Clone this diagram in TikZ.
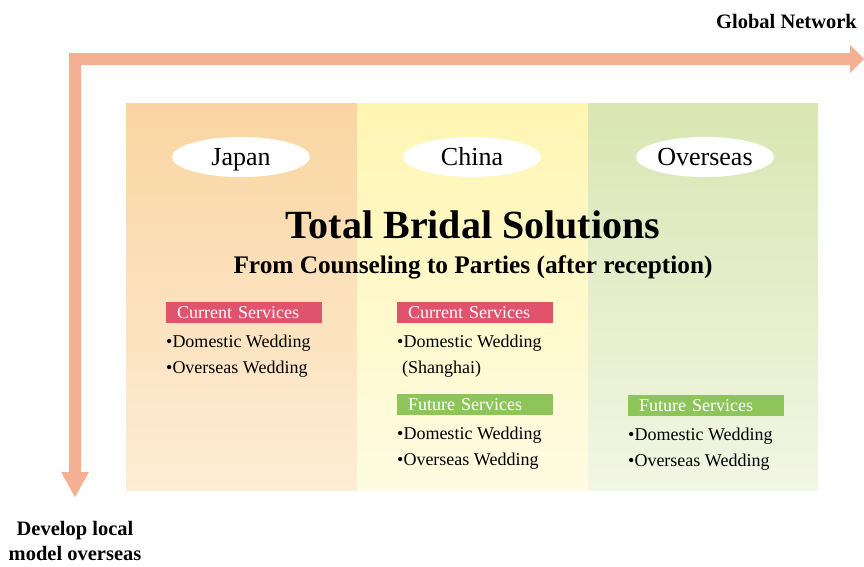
\documentclass[tikz,border=0pt]{standalone}
\usepackage{fontspec}
\setmainfont{Liberation Serif}
\usetikzlibrary{shapes.geometric}
\definecolor{arrowc}{HTML}{F4B092}
\definecolor{jtop}{HTML}{FAD5A2}
\definecolor{jbot}{HTML}{FDEDD5}
\definecolor{ctop}{HTML}{FFF6B2}
\definecolor{cbot}{HTML}{FFFBE2}
\definecolor{otop}{HTML}{D9E6B2}
\definecolor{obot}{HTML}{F2F6E4}
\definecolor{pinktag}{HTML}{E0536C}
\definecolor{greentag}{HTML}{8DC55A}
\tikzset{
  region/.style={ellipse, fill=white, minimum width=138pt, minimum height=40pt, inner sep=0pt, text height=17pt, text depth=0pt, font=\fontsize{26}{28}\selectfont},
  tag/.style={anchor=north west, fill=#1, text=white, minimum width=156pt, minimum height=21pt, inner sep=0pt, text width=134pt, align=left, font=\fontsize{18}{20}\selectfont},
  item/.style={anchor=west, inner sep=0pt, font=\fontsize{18}{20}\selectfont},
  label/.style={inner sep=0pt, font=\bfseries\fontsize{20.5}{25}\selectfont, align=center}
}
\begin{document}
\begin{tikzpicture}[x=1pt,y=-1pt]
\useasboundingbox (0,0) rectangle (864,566);
% columns
\shade[top color=jtop, bottom color=jbot] (126,103) rectangle (357,490);
\shade[top color=ctop, bottom color=cbot] (357,103) rectangle (588,490);
\shade[top color=otop, bottom color=obot] (588,103) rectangle (818,490);
% arrow
\fill[arrowc] (69,53) -- (850,53) -- (850,45) -- (864,59) -- (850,73) -- (850,65)
  -- (81,65) -- (81,472) -- (89,472) -- (75,497) -- (61,472) -- (69,472) -- cycle;
\node[label, anchor=east] (gn) at (857,21) {Global Network};
\node[label] (dev) at (75,541) {Develop local\\model overseas};
% regions
\node[region] (jp) at (241,157) {Japan};
\node[region] (cn) at (472,157) {China};
\node[region] (os) at (705,157) {Overseas};
% title
\node[inner sep=0pt, font=\bfseries\fontsize{40}{44}\selectfont] (title) at (473,225) {Total Bridal Solutions};
\node[inner sep=0pt, font=\bfseries\fontsize{25.3}{27}\selectfont] (sub) at (473,267) {From Counseling to Parties (after reception)};
% Japan
\node[tag=pinktag] (jcur) at (166,302) {Current Services};
\node[item] (j1) at (166,343) {•Domestic Wedding};
\node[item] (j2) at (166,369) {•Overseas Wedding};
% China
\node[tag=pinktag] (ccur) at (397,302) {Current Services};
\node[item] (c1) at (397,343) {•Domestic Wedding};
\node[item] (c2) at (402,369) {(Shanghai)};
\node[tag=greentag] (cfut) at (397,394) {Future Services};
\node[item] (c3) at (397,435) {•Domestic Wedding};
\node[item] (c4) at (397,461) {•Overseas Wedding};
% Overseas
\node[tag=greentag] (ofut) at (628,395) {Future Services};
\node[item] (o1) at (628,436) {•Domestic Wedding};
\node[item] (o2) at (628,462) {•Overseas Wedding};
\end{tikzpicture}
\end{document}
